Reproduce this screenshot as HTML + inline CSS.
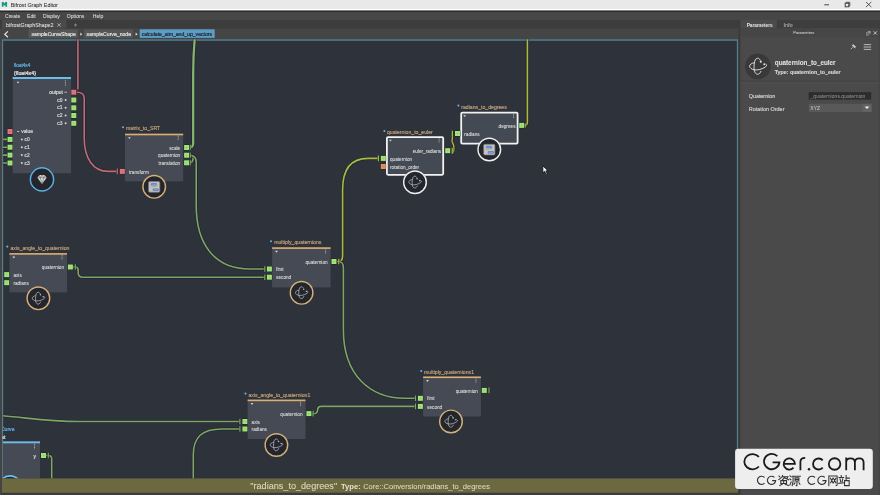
<!DOCTYPE html>
<html><head><meta charset="utf-8"><title>Bifrost Graph Editor</title>
<style>html,body{margin:0;padding:0;width:880px;height:495px;overflow:hidden;background:#484848;font-family:"Liberation Sans",sans-serif}</style>
</head><body>
<svg width="880" height="495" viewBox="0 0 880 495" font-family="Liberation Sans" style="position:absolute;left:0;top:0;will-change:transform"><rect x="0" y="0" width="880" height="495" fill="#484848" />
<rect x="0" y="0" width="880" height="9.5" fill="#e9e9e9" />
<rect x="0" y="8.9" width="880" height="1.3" fill="#ffffff" />
<rect x="0" y="10.2" width="880" height="0.8" fill="#8a8a8a" />
<rect x="0" y="11" width="880" height="1.1" fill="#2a2a2a" />
<path d="M1.8 2 H3.6 L4.35 3.7 L5.1 2 H7.1 V6.7 H5.3 V4.9 L4.35 5.7 L3.5 4.9 V6.7 H1.8 Z" fill="#1a9a80"/>
<text x="10.7" y="7.2" font-size="5.39" fill="#303030" stroke="#303030" stroke-width="0.054" text-anchor="start" font-weight="normal" >Bifrost Graph Editor</text>
<path d="M824.3 4.8 H829" stroke="#333" stroke-width="0.9"/>
<rect x="845.2" y="3.2" width="3.6" height="3.6" fill="none" stroke="#333" stroke-width="0.9"/><path d="M846.2 3 V2.3 H849.8 V5.9 H849" fill="none" stroke="#333" stroke-width="0.8"/>
<path d="M866 2 L871.3 7 M871.3 2 L866 7" stroke="#333" stroke-width="0.8"/>
<rect x="0" y="12.1" width="880" height="7.9" fill="#474747" />
<text x="5" y="18" font-size="5.1" fill="#d4d4d4" stroke="#d4d4d4" stroke-width="0.102" text-anchor="start" font-weight="normal" >Create</text>
<text x="27" y="18" font-size="5.1" fill="#d4d4d4" stroke="#d4d4d4" stroke-width="0.102" text-anchor="start" font-weight="normal" >Edit</text>
<text x="43" y="18" font-size="5.1" fill="#d4d4d4" stroke="#d4d4d4" stroke-width="0.102" text-anchor="start" font-weight="normal" >Display</text>
<text x="66.8" y="18" font-size="5.1" fill="#d4d4d4" stroke="#d4d4d4" stroke-width="0.102" text-anchor="start" font-weight="normal" >Options</text>
<text x="92.8" y="18" font-size="5.1" fill="#d4d4d4" stroke="#d4d4d4" stroke-width="0.102" text-anchor="start" font-weight="normal" >Help</text>
<rect x="0" y="20" width="738" height="8.7" fill="#3c3c3c" />
<rect x="2" y="20" width="64.5" height="8.7" fill="#4a4a4a" />
<text x="6.1" y="26.8" font-size="5.3" fill="#d8d8d8" stroke="#d8d8d8" stroke-width="0.106" text-anchor="start" font-weight="normal" >bifrostGraphShape2</text>
<path d="M57.4 23.4 L60.8 26.6 M60.8 23.4 L57.4 26.6" stroke="#c8c8c8" stroke-width="0.7"/>
<path d="M74 25 H77 M75.5 23.5 V26.5" stroke="#aaaaaa" stroke-width="0.6"/>
<rect x="0" y="28.7" width="738" height="10.3" fill="#454545" />
<path d="M7.9 31.4 L4.8 34.3 L7.9 37.2" stroke="#e4e4e4" stroke-width="1.2" fill="none"/>
<rect x="28.6" y="29.3" width="49.2" height="8.6" fill="#555555" />
<text x="31.4" y="36" font-size="5.05" fill="#dddddd" stroke="#dddddd" stroke-width="0.227" text-anchor="start" font-weight="normal" >sampleCurveShape</text>
<path d="M80.3 32.6 L82.3 34.2 L80.3 35.8 Z" fill="#dddddd"/>
<rect x="84" y="29.3" width="49" height="8.6" fill="#555555" />
<text x="86.6" y="36" font-size="5.14" fill="#dddddd" stroke="#dddddd" stroke-width="0.231" text-anchor="start" font-weight="normal" >sampleCurve_node</text>
<path d="M135.6 32.6 L137.6 34.2 L135.6 35.8 Z" fill="#dddddd"/>
<rect x="139.7" y="29.3" width="75" height="8.6" fill="#5e9cc4" />
<text x="141.8" y="36" font-size="5.1" fill="#1c2a36" stroke="#1c2a36" stroke-width="0.229" text-anchor="start" font-weight="normal" >calculate_aim_and_up_vectors</text>
<rect x="0" y="39" width="738" height="439.5" fill="#2e323a" />
<path d="M2.4 478.5 V40 H737.6 V478.5" fill="none" stroke="#52808e" stroke-width="1.5"/>
<defs><clipPath id="gc"><rect x="2.6" y="39.3" width="734.5" height="439.2"/></clipPath></defs><g clip-path="url(#gc)">
<path d="M77.9 39 V89.5" fill="none" stroke="#1b1f27" stroke-width="3.0" stroke-opacity="0.7"/>
<path d="M77.9 39 V89.5" fill="none" stroke="#c06a7c" stroke-width="1.6"/>
<path d="M77 92.2 C81 92.2 84.2 93 84.2 98 V138 C84.2 158 93 171.4 108 171.4 H117.4" fill="none" stroke="#1b1f27" stroke-width="3.0" stroke-opacity="0.7"/>
<path d="M77 92.2 C81 92.2 84.2 93 84.2 98 V138 C84.2 158 93 171.4 108 171.4 H117.4" fill="none" stroke="#c06a7c" stroke-width="1.6"/>
<path d="M194.7 39 C193.7 50 193.2 60 193.2 75 V143 C193.2 146 192 147.5 189.5 147.5" fill="none" stroke="#1b1f27" stroke-width="3.6999999999999997" stroke-opacity="0.7"/>
<path d="M194.7 39 C193.7 50 193.2 60 193.2 75 V143 C193.2 146 192 147.5 189.5 147.5" fill="none" stroke="#88b470" stroke-width="2.3"/>
<path d="M189.5 162.8 C192 162.8 193.2 161 193.2 157" fill="none" stroke="#1b1f27" stroke-width="3.0" stroke-opacity="0.7"/>
<path d="M189.5 162.8 C192 162.8 193.2 161 193.2 157" fill="none" stroke="#7fa468" stroke-width="1.6"/>
<path d="M189.5 155.2 C193 155.2 196.2 157 196.2 162 V205 C196.2 245 215 269 250 269 H265" fill="none" stroke="#1b1f27" stroke-width="3.0" stroke-opacity="0.7"/>
<path d="M189.5 155.2 C193 155.2 196.2 157 196.2 162 V205 C196.2 245 215 269 250 269 H265" fill="none" stroke="#7fa468" stroke-width="1.6"/>
<path d="M73 267 H75.5 C77.4 267 78.2 268 78.2 270.5 V273 C78.2 276 80 277.2 83 277.2 H265" fill="none" stroke="#1b1f27" stroke-width="3.0" stroke-opacity="0.7"/>
<path d="M73 267 H75.5 C77.4 267 78.2 268 78.2 270.5 V273 C78.2 276 80 277.2 83 277.2 H265" fill="none" stroke="#7fa468" stroke-width="1.6"/>
<path d="M337 261.5 C341 261.5 342.6 260.5 342.6 256 V190 C342.6 170 350 158.4 368 158.4 H378.5" fill="none" stroke="#1b1f27" stroke-width="3.0" stroke-opacity="0.7"/>
<path d="M337 261.5 C341 261.5 342.6 260.5 342.6 256 V190 C342.6 170 350 158.4 368 158.4 H378.5" fill="none" stroke="#abbb40" stroke-width="1.6"/>
<path d="M338 261.5 C342 261.5 343.4 263 343.4 268 V330 C343.4 375 370 398.3 405 398.3 H415.6" fill="none" stroke="#1b1f27" stroke-width="3.0" stroke-opacity="0.7"/>
<path d="M338 261.5 C342 261.5 343.4 263 343.4 268 V330 C343.4 375 370 398.3 405 398.3 H415.6" fill="none" stroke="#7fa468" stroke-width="1.6"/>
<path d="M452.4 131.5 V137.5 C452.4 139.5 451.7 140.3 452.2 142 C452.8 143.6 453.8 144.3 453.8 146.8 V150 C453.8 151.6 453.2 152.6 452.2 153.6" fill="none" stroke="#1b1f27" stroke-width="2.8" stroke-opacity="0.7"/>
<path d="M452.4 131.5 V137.5 C452.4 139.5 451.7 140.3 452.2 142 C452.8 143.6 453.8 144.3 453.8 146.8 V150 C453.8 151.6 453.2 152.6 452.2 153.6" fill="none" stroke="#abbb40" stroke-width="1.4"/>
<path d="M524 125.4 C526.5 125.4 527.4 124.5 527.4 122 V39" fill="none" stroke="#1b1f27" stroke-width="3.0" stroke-opacity="0.7"/>
<path d="M524 125.4 C526.5 125.4 527.4 124.5 527.4 122 V39" fill="none" stroke="#abbb40" stroke-width="1.6"/>
<path d="M311.5 413.7 H313.5 C316 413.7 317.2 413 317.4 411 L317.8 409 C318.2 407 319 406.4 321 406.4 H415.6" fill="none" stroke="#1b1f27" stroke-width="3.0" stroke-opacity="0.7"/>
<path d="M311.5 413.7 H313.5 C316 413.7 317.2 413 317.4 411 L317.8 409 C318.2 407 319 406.4 321 406.4 H415.6" fill="none" stroke="#7fa468" stroke-width="1.6"/>
<path d="M2.5 415.8 C30 418 45 421.5 80 421.5 H240" fill="none" stroke="#1b1f27" stroke-width="3.0" stroke-opacity="0.7"/>
<path d="M2.5 415.8 C30 418 45 421.5 80 421.5 H240" fill="none" stroke="#7fa468" stroke-width="1.6"/>
<path d="M193.3 479 V455 C193.3 437 202 429 222 429 H240" fill="none" stroke="#1b1f27" stroke-width="3.0" stroke-opacity="0.7"/>
<path d="M193.3 479 V455 C193.3 437 202 429 222 429 H240" fill="none" stroke="#7fa468" stroke-width="1.6"/>
<path d="M45.8 455.5 H48.5 C50.6 455.5 51.7 456.5 51.7 459 V479" fill="none" stroke="#1b1f27" stroke-width="3.0" stroke-opacity="0.7"/>
<path d="M45.8 455.5 H48.5 C50.6 455.5 51.7 456.5 51.7 459 V479" fill="none" stroke="#7fa468" stroke-width="1.6"/>
<path d="M2.5 139.4 H7.3" fill="none" stroke="#1b1f27" stroke-width="3.0" stroke-opacity="0.7"/>
<path d="M2.5 139.4 H7.3" fill="none" stroke="#7fa468" stroke-width="1.6"/>
<path d="M2.5 147.2 H7.3" fill="none" stroke="#1b1f27" stroke-width="3.0" stroke-opacity="0.7"/>
<path d="M2.5 147.2 H7.3" fill="none" stroke="#7fa468" stroke-width="1.6"/>
<path d="M2.5 155.1 H7.3" fill="none" stroke="#1b1f27" stroke-width="3.0" stroke-opacity="0.7"/>
<path d="M2.5 155.1 H7.3" fill="none" stroke="#7fa468" stroke-width="1.6"/>
<path d="M2.5 163 H7.3" fill="none" stroke="#1b1f27" stroke-width="3.0" stroke-opacity="0.7"/>
<path d="M2.5 163 H7.3" fill="none" stroke="#7fa468" stroke-width="1.6"/>
<path d="M117.3 168.6 V174.20000000000002" stroke="#1b1f27" stroke-width="2.4" stroke-opacity="0.6"/>
<path d="M117.3 168.6 V174.20000000000002" stroke="#c06a7c" stroke-width="1.2"/>
<path d="M190.2 144.7 V150.3" stroke="#1b1f27" stroke-width="2.4" stroke-opacity="0.6"/>
<path d="M190.2 144.7 V150.3" stroke="#7fa468" stroke-width="1.2"/>
<path d="M190.2 152.39999999999998 V158.0" stroke="#1b1f27" stroke-width="2.4" stroke-opacity="0.6"/>
<path d="M190.2 152.39999999999998 V158.0" stroke="#7fa468" stroke-width="1.2"/>
<path d="M190.2 160.0 V165.60000000000002" stroke="#1b1f27" stroke-width="2.4" stroke-opacity="0.6"/>
<path d="M190.2 160.0 V165.60000000000002" stroke="#7fa468" stroke-width="1.2"/>
<path d="M264.8 266.2 V271.8" stroke="#1b1f27" stroke-width="2.4" stroke-opacity="0.6"/>
<path d="M264.8 266.2 V271.8" stroke="#7fa468" stroke-width="1.2"/>
<path d="M264.8 274.4 V280.0" stroke="#1b1f27" stroke-width="2.4" stroke-opacity="0.6"/>
<path d="M264.8 274.4 V280.0" stroke="#7fa468" stroke-width="1.2"/>
<path d="M75.3 264.2 V269.8" stroke="#1b1f27" stroke-width="2.4" stroke-opacity="0.6"/>
<path d="M75.3 264.2 V269.8" stroke="#7fa468" stroke-width="1.2"/>
<path d="M338.8 258.7 V264.3" stroke="#1b1f27" stroke-width="2.4" stroke-opacity="0.6"/>
<path d="M338.8 258.7 V264.3" stroke="#abbb40" stroke-width="1.2"/>
<path d="M378.4 155.6 V161.20000000000002" stroke="#1b1f27" stroke-width="2.4" stroke-opacity="0.6"/>
<path d="M378.4 155.6 V161.20000000000002" stroke="#abbb40" stroke-width="1.2"/>
<path d="M415.5 395.5 V401.1" stroke="#1b1f27" stroke-width="2.4" stroke-opacity="0.6"/>
<path d="M415.5 395.5 V401.1" stroke="#7fa468" stroke-width="1.2"/>
<path d="M415.5 403.59999999999997 V409.2" stroke="#1b1f27" stroke-width="2.4" stroke-opacity="0.6"/>
<path d="M415.5 403.59999999999997 V409.2" stroke="#7fa468" stroke-width="1.2"/>
<path d="M313.1 410.8 V416.40000000000003" stroke="#1b1f27" stroke-width="2.4" stroke-opacity="0.6"/>
<path d="M313.1 410.8 V416.40000000000003" stroke="#7fa468" stroke-width="1.2"/>
<path d="M239.9 418.7 V424.3" stroke="#1b1f27" stroke-width="2.4" stroke-opacity="0.6"/>
<path d="M239.9 418.7 V424.3" stroke="#7fa468" stroke-width="1.2"/>
<path d="M239.9 426.2 V431.8" stroke="#1b1f27" stroke-width="2.4" stroke-opacity="0.6"/>
<path d="M239.9 426.2 V431.8" stroke="#7fa468" stroke-width="1.2"/>
<path d="M48.3 452.7 V458.3" stroke="#1b1f27" stroke-width="2.4" stroke-opacity="0.6"/>
<path d="M48.3 452.7 V458.3" stroke="#7fa468" stroke-width="1.2"/>
<path d="M489 387.59999999999997 V393.2" stroke="#1b1f27" stroke-width="2.4" stroke-opacity="0.6"/>
<path d="M489 387.59999999999997 V393.2" stroke="#7fa468" stroke-width="1.2"/>
<path d="M452.2 147.8 V153.8" stroke="#1b1f27" stroke-width="2.4" stroke-opacity="0.6"/>
<path d="M452.2 147.8 V153.8" stroke="#abbb40" stroke-width="1.2"/>
<path d="M452.4 130.85 V136.35" stroke="#1b1f27" stroke-width="2.4" stroke-opacity="0.6"/>
<path d="M452.4 130.85 V136.35" stroke="#abbb40" stroke-width="1.2"/>
<path d="M525.2 123.4 V127.4" stroke="#1b1f27" stroke-width="2.4" stroke-opacity="0.6"/>
<path d="M525.2 123.4 V127.4" stroke="#abbb40" stroke-width="1.2"/>
<text x="14" y="67.4" font-size="4.63" fill="#62aee0" stroke="#62aee0" stroke-width="0.208" text-anchor="start" font-weight="normal" >float4x4</text>
<text x="14" y="74.7" font-size="5.25" fill="#e0e0e0" stroke="#e0e0e0" stroke-width="0.236" text-anchor="start" font-weight="normal" >{float4x4}</text>
<rect x="12.7" y="77" width="58.3" height="96.3" fill="#454a54" />
<rect x="12.7" y="77" width="58.3" height="2" fill="#6cbcec" />
<path d="M16.6 81.7 L19.4 81.7 L18 83.6 Z" fill="#d8d8d8"/>
<path d="M65.4 80.2 V85.9" stroke="#a8a8a8" stroke-width="0.9" stroke-dasharray="1.1 0.5"/>
<text x="63" y="93.7" font-size="4.96" fill="#d4d4d4" stroke="#d4d4d4" stroke-width="0.223" text-anchor="end" font-weight="normal" >output</text>
<path d="M64.3 92.2 H67" stroke="#d0d0d0" stroke-width="0.8"/>
<rect x="71.0" y="89.4" width="5.6" height="5.6" fill="#1a2018"/>
<rect x="71.3" y="89.7" width="5" height="5" fill="#e87482"/>
<path d="M73.8 90.3 V94.10000000000001 M71.89999999999999 92.2 H75.7" stroke="#000" stroke-opacity="0.12" stroke-width="0.5"/>
<text x="62.5" y="101.5" font-size="4.9" fill="#d4d4d4" stroke="#d4d4d4" stroke-width="0.221" text-anchor="end" font-weight="normal" >c0</text>
<circle cx="65.6" cy="100" r="1.0" fill="#d8d8d8"/>
<rect x="71.0" y="97.2" width="5.6" height="5.6" fill="#1a2018"/>
<rect x="71.3" y="97.5" width="5" height="5" fill="#a2e67c"/>
<path d="M73.8 98.1 V101.9 M71.89999999999999 100 H75.7" stroke="#000" stroke-opacity="0.12" stroke-width="0.5"/>
<text x="62.5" y="109.3" font-size="4.9" fill="#d4d4d4" stroke="#d4d4d4" stroke-width="0.221" text-anchor="end" font-weight="normal" >c1</text>
<circle cx="65.6" cy="107.8" r="1.0" fill="#d8d8d8"/>
<rect x="71.0" y="105.0" width="5.6" height="5.6" fill="#1a2018"/>
<rect x="71.3" y="105.3" width="5" height="5" fill="#a2e67c"/>
<path d="M73.8 105.89999999999999 V109.7 M71.89999999999999 107.8 H75.7" stroke="#000" stroke-opacity="0.12" stroke-width="0.5"/>
<text x="62.5" y="117.0" font-size="4.9" fill="#d4d4d4" stroke="#d4d4d4" stroke-width="0.221" text-anchor="end" font-weight="normal" >c2</text>
<circle cx="65.6" cy="115.5" r="1.0" fill="#d8d8d8"/>
<rect x="71.0" y="112.7" width="5.6" height="5.6" fill="#1a2018"/>
<rect x="71.3" y="113.0" width="5" height="5" fill="#a2e67c"/>
<path d="M73.8 113.6 V117.4 M71.89999999999999 115.5 H75.7" stroke="#000" stroke-opacity="0.12" stroke-width="0.5"/>
<text x="62.5" y="124.8" font-size="4.9" fill="#d4d4d4" stroke="#d4d4d4" stroke-width="0.221" text-anchor="end" font-weight="normal" >c3</text>
<circle cx="65.6" cy="123.3" r="1.0" fill="#d8d8d8"/>
<rect x="71.0" y="120.5" width="5.6" height="5.6" fill="#1a2018"/>
<rect x="71.3" y="120.8" width="5" height="5" fill="#a2e67c"/>
<path d="M73.8 121.39999999999999 V125.2 M71.89999999999999 123.3 H75.7" stroke="#000" stroke-opacity="0.12" stroke-width="0.5"/>
<path d="M17 131.5 H19.4" stroke="#d0d0d0" stroke-width="0.8"/>
<text x="21.2" y="133.0" font-size="4.9" fill="#d4d4d4" stroke="#d4d4d4" stroke-width="0.221" text-anchor="start" font-weight="normal" >value</text>
<rect x="7.2" y="128.7" width="5.6" height="5.6" fill="#1a2018"/>
<rect x="7.5" y="129.0" width="5" height="5" fill="#e87482"/>
<path d="M10.0 129.6 V133.4 M8.1 131.5 H11.9" stroke="#000" stroke-opacity="0.12" stroke-width="0.5"/>
<circle cx="21.8" cy="139.4" r="1.0" fill="#d8d8d8"/>
<text x="24.6" y="140.9" font-size="4.9" fill="#d4d4d4" stroke="#d4d4d4" stroke-width="0.221" text-anchor="start" font-weight="normal" >c0</text>
<rect x="7.2" y="136.6" width="5.6" height="5.6" fill="#1a2018"/>
<rect x="7.5" y="136.9" width="5" height="5" fill="#a2e67c"/>
<path d="M10.0 137.5 V141.3 M8.1 139.4 H11.9" stroke="#000" stroke-opacity="0.12" stroke-width="0.5"/>
<circle cx="21.8" cy="147.2" r="1.0" fill="#d8d8d8"/>
<text x="24.6" y="148.7" font-size="4.9" fill="#d4d4d4" stroke="#d4d4d4" stroke-width="0.221" text-anchor="start" font-weight="normal" >c1</text>
<rect x="7.2" y="144.39999999999998" width="5.6" height="5.6" fill="#1a2018"/>
<rect x="7.5" y="144.7" width="5" height="5" fill="#a2e67c"/>
<path d="M10.0 145.29999999999998 V149.1 M8.1 147.2 H11.9" stroke="#000" stroke-opacity="0.12" stroke-width="0.5"/>
<circle cx="21.8" cy="155.1" r="1.0" fill="#d8d8d8"/>
<text x="24.6" y="156.6" font-size="4.9" fill="#d4d4d4" stroke="#d4d4d4" stroke-width="0.221" text-anchor="start" font-weight="normal" >c2</text>
<rect x="7.2" y="152.29999999999998" width="5.6" height="5.6" fill="#1a2018"/>
<rect x="7.5" y="152.6" width="5" height="5" fill="#a2e67c"/>
<path d="M10.0 153.2 V157.0 M8.1 155.1 H11.9" stroke="#000" stroke-opacity="0.12" stroke-width="0.5"/>
<circle cx="21.8" cy="163" r="1.0" fill="#d8d8d8"/>
<text x="24.6" y="164.5" font-size="4.9" fill="#d4d4d4" stroke="#d4d4d4" stroke-width="0.221" text-anchor="start" font-weight="normal" >c3</text>
<rect x="7.2" y="160.2" width="5.6" height="5.6" fill="#1a2018"/>
<rect x="7.5" y="160.5" width="5" height="5" fill="#a2e67c"/>
<path d="M10.0 161.1 V164.9 M8.1 163 H11.9" stroke="#000" stroke-opacity="0.12" stroke-width="0.5"/>
<circle cx="42" cy="179.4" r="12.1" fill="#1c1f25"/>
<circle cx="42" cy="179.4" r="11.6" fill="#23262d" stroke="#5ab4e8" stroke-width="1.45"/>
<path d="M37.4 177.8 L39.4 175.0 L44.6 175.0 L46.6 177.8 L42 184.0 Z" fill="#dcdcdc"/>
<path d="M37.4 177.8 H46.6 M40.2 177.8 L42 183.8 L43.8 177.8 M39.4 175.0 L40.2 177.8 L42 175.0 L43.8 177.8 L44.6 175.0" fill="none" stroke="#5a5a5a" stroke-width="0.55"/>
<circle cx="123" cy="127.3" r="1.05" fill="#6ab0e0"/>
<text x="126" y="129.7" font-size="5.15" fill="#c4a47a" stroke="#c4a47a" stroke-width="0.154" text-anchor="start" font-weight="normal" >matrix_to_SRT</text>
<rect x="125" y="133.7" width="58.19999999999999" height="47.70000000000002" fill="#454a54" />
<rect x="125" y="133.7" width="58.19999999999999" height="1.6" fill="#dcae72" />
<path d="M128.0 137.2 L130.8 137.2 L129.4 139.1 Z" fill="#d8d8d8"/>
<path d="M178.2 135.7 V140.5" stroke="#a8a8a8" stroke-width="0.9" stroke-dasharray="1.1 0.5"/>
<text x="180.2" y="149.6" font-size="4.7" fill="#d8d8d8" stroke="#d8d8d8" stroke-width="0.094" text-anchor="end" font-weight="normal" >scale</text>
<rect x="183.79999999999998" y="144.7" width="5.6" height="5.6" fill="#1a2018"/>
<rect x="184.1" y="145.0" width="5" height="5" fill="#a2e67c"/>
<path d="M186.6 145.6 V149.4 M184.7 147.5 H188.5" stroke="#000" stroke-opacity="0.12" stroke-width="0.5"/>
<text x="180.2" y="157.29999999999998" font-size="4.7" fill="#d8d8d8" stroke="#d8d8d8" stroke-width="0.094" text-anchor="end" font-weight="normal" >quaternion</text>
<rect x="183.79999999999998" y="152.39999999999998" width="5.6" height="5.6" fill="#1a2018"/>
<rect x="184.1" y="152.7" width="5" height="5" fill="#a2e67c"/>
<path d="M186.6 153.29999999999998 V157.1 M184.7 155.2 H188.5" stroke="#000" stroke-opacity="0.12" stroke-width="0.5"/>
<text x="180.2" y="164.9" font-size="4.7" fill="#d8d8d8" stroke="#d8d8d8" stroke-width="0.094" text-anchor="end" font-weight="normal" >translation</text>
<rect x="183.79999999999998" y="160.0" width="5.6" height="5.6" fill="#1a2018"/>
<rect x="184.1" y="160.3" width="5" height="5" fill="#a2e67c"/>
<path d="M186.6 160.9 V164.70000000000002 M184.7 162.8 H188.5" stroke="#000" stroke-opacity="0.12" stroke-width="0.5"/>
<text x="129" y="173.5" font-size="4.7" fill="#d8d8d8" stroke="#d8d8d8" stroke-width="0.094" text-anchor="start" font-weight="normal" >transform</text>
<rect x="119.5" y="168.6" width="5.6" height="5.6" fill="#1a2018"/>
<rect x="119.8" y="168.9" width="5" height="5" fill="#e87482"/>
<path d="M122.3 169.5 V173.3 M120.39999999999999 171.4 H124.2" stroke="#000" stroke-opacity="0.12" stroke-width="0.5"/>
<circle cx="154.2" cy="186.8" r="11.8" fill="#1c1f25"/>
<circle cx="154.2" cy="186.8" r="11.3" fill="#23262d" stroke="#d6b07c" stroke-width="1.45"/>
<rect x="148.6" y="181.60000000000002" width="11.2" height="10.6" rx="1.2" fill="#c4c4c0" stroke="#7a7a78" stroke-width="0.7"/>
<rect x="151.0" y="183.5" width="5.6" height="1.7" rx="0.5" fill="#88a6ee" stroke="#3456b4" stroke-width="0.5"/>
<rect x="152.89999999999998" y="188.8" width="5.6" height="1.7" rx="0.5" fill="#88a6ee" stroke="#3456b4" stroke-width="0.5"/>
<path d="M150.6 187.0 L157.79999999999998 186.20000000000002" stroke="#b08a5a" stroke-width="0.5"/>
<circle cx="384.4" cy="131" r="1.05" fill="#6ab0e0"/>
<text x="387" y="133.7" font-size="5.15" fill="#c4a47a" stroke="#c4a47a" stroke-width="0.154" text-anchor="start" font-weight="normal" >quaternion_to_euler</text>
<rect x="386.9" y="137.1" width="56.300000000000026" height="37.7" rx="1.2" fill="#444a53" stroke="#f2f2f2" stroke-width="1.8"/>
<path d="M389.0 139.7 L391.79999999999995 139.7 L390.4 141.6 Z" fill="#d8d8d8"/>
<path d="M439.1 138.2 V143.0" stroke="#a8a8a8" stroke-width="0.9" stroke-dasharray="1.1 0.5"/>
<text x="441.1" y="152.79999999999998" font-size="4.7" fill="#d8d8d8" stroke="#d8d8d8" stroke-width="0.094" text-anchor="end" font-weight="normal" >euler_radians</text>
<rect x="444.9" y="147.89999999999998" width="5.6" height="5.6" fill="#1a2018"/>
<rect x="445.2" y="148.2" width="5" height="5" fill="#a2e67c"/>
<path d="M447.7 148.79999999999998 V152.6 M445.8 150.7 H449.59999999999997" stroke="#000" stroke-opacity="0.12" stroke-width="0.5"/>
<text x="390" y="160.5" font-size="4.7" fill="#d8d8d8" stroke="#d8d8d8" stroke-width="0.094" text-anchor="start" font-weight="normal" >quaternion</text>
<rect x="380.5" y="155.6" width="5.6" height="5.6" fill="#1a2018"/>
<rect x="380.8" y="155.9" width="5" height="5" fill="#a2e67c"/>
<path d="M383.3 156.5 V160.3 M381.40000000000003 158.4 H385.2" stroke="#000" stroke-opacity="0.12" stroke-width="0.5"/>
<text x="390" y="168.6" font-size="4.7" fill="#d8d8d8" stroke="#d8d8d8" stroke-width="0.094" text-anchor="start" font-weight="normal" >rotation_order</text>
<rect x="380.5" y="163.7" width="5.6" height="5.6" fill="#1a2018"/>
<rect x="380.8" y="164.0" width="5" height="5" fill="#e8925e"/>
<path d="M383.3 164.6 V168.4 M381.40000000000003 166.5 H385.2" stroke="#000" stroke-opacity="0.12" stroke-width="0.5"/>
<circle cx="415" cy="182.2" r="11.8" fill="#1c1f25"/>
<circle cx="415" cy="182.2" r="11.3" fill="#23262d" stroke="#f0f0f0" stroke-width="1.45"/>
<g transform="translate(415,182.2) scale(0.74)" fill="none" stroke="#bdbdbd" stroke-width="1.014" stroke-linecap="round"><path d="M2.1 -6.6 C1.5 -7.7 0.6 -8.2 -0.2 -8.2 C-2.4 -8.2 -3.4 -5.5 -3.7 -2.3 C-4 1 -3.9 3.6 -3.4 4.8 C-2.8 6.6 -1.8 7.8 -0.4 7.8 C1.2 7.8 2.5 6.6 3.0 5.0"/><path d="M-4.24 -3.5 C-6.5 -3.2 -8.3 -1.6 -8.3 -0.3 C-8.3 1.6 -6 3 -3.8 3.4 C-1.5 3.7 1 3.6 4.2 2.3 C6.5 1.3 8.7 0.1 8.7 -1.1 C8.7 -1.5 8.5 -1.8 8.2 -2.0"/><circle cx="2.83" cy="-4.73" r="1.05" fill="#bdbdbd" stroke="none"/><circle cx="6.46" cy="-2.1" r="1.05" fill="#bdbdbd" stroke="none"/></g>
<circle cx="458.4" cy="105.6" r="1.05" fill="#6ab0e0"/>
<text x="461.3" y="109.4" font-size="5.15" fill="#c4a47a" stroke="#c4a47a" stroke-width="0.154" text-anchor="start" font-weight="normal" >radians_to_degrees</text>
<rect x="461.2" y="112.60000000000001" width="56.39999999999999" height="30.999999999999996" rx="1.2" fill="#444a53" stroke="#f2f2f2" stroke-width="1.8"/>
<path d="M463.3 115.2 L466.09999999999997 115.2 L464.7 117.10000000000001 Z" fill="#d8d8d8"/>
<path d="M513.5 113.7 V118.50000000000001" stroke="#a8a8a8" stroke-width="0.9" stroke-dasharray="1.1 0.5"/>
<text x="515.5" y="127.5" font-size="4.7" fill="#d8d8d8" stroke="#d8d8d8" stroke-width="0.094" text-anchor="end" font-weight="normal" >degrees</text>
<rect x="518.9000000000001" y="122.60000000000001" width="5.6" height="5.6" fill="#1a2018"/>
<rect x="519.2" y="122.9" width="5" height="5" fill="#a2e67c"/>
<path d="M521.7 123.5 V127.30000000000001 M519.8000000000001 125.4 H523.6" stroke="#000" stroke-opacity="0.12" stroke-width="0.5"/>
<text x="464.3" y="135.6" font-size="4.7" fill="#d8d8d8" stroke="#d8d8d8" stroke-width="0.094" text-anchor="start" font-weight="normal" >radians</text>
<rect x="454.7" y="130.7" width="5.6" height="5.6" fill="#1a2018"/>
<rect x="455" y="131.0" width="5" height="5" fill="#a2e67c"/>
<path d="M457.5 131.6 V135.4 M455.6 133.5 H459.4" stroke="#000" stroke-opacity="0.12" stroke-width="0.5"/>
<circle cx="489.3" cy="149.5" r="11.8" fill="#1c1f25"/>
<circle cx="489.3" cy="149.5" r="11.3" fill="#23262d" stroke="#f0f0f0" stroke-width="1.45"/>
<rect x="483.7" y="144.3" width="11.2" height="10.6" rx="1.2" fill="#c4c4c0" stroke="#7a7a78" stroke-width="0.7"/>
<rect x="486.1" y="146.2" width="5.6" height="1.7" rx="0.5" fill="#88a6ee" stroke="#3456b4" stroke-width="0.5"/>
<rect x="488.0" y="151.5" width="5.6" height="1.7" rx="0.5" fill="#88a6ee" stroke="#3456b4" stroke-width="0.5"/>
<path d="M485.7 149.7 L492.90000000000003 148.9" stroke="#b08a5a" stroke-width="0.5"/>
<circle cx="7.3" cy="246.6" r="1.05" fill="#6ab0e0"/>
<text x="10.5" y="249.7" font-size="5.15" fill="#c4a47a" stroke="#c4a47a" stroke-width="0.154" text-anchor="start" font-weight="normal" >axis_angle_to_quaternion</text>
<rect x="9.4" y="253.1" width="57.6" height="39.29999999999998" fill="#454a54" />
<rect x="9.4" y="253.1" width="57.6" height="1.6" fill="#dcae72" />
<path d="M12.4 256.6 L15.200000000000001 256.6 L13.8 258.5 Z" fill="#d8d8d8"/>
<path d="M62 255.1 V259.9" stroke="#a8a8a8" stroke-width="0.9" stroke-dasharray="1.1 0.5"/>
<text x="64" y="269.1" font-size="4.7" fill="#d8d8d8" stroke="#d8d8d8" stroke-width="0.094" text-anchor="end" font-weight="normal" >quaternion</text>
<rect x="67.60000000000001" y="264.2" width="5.6" height="5.6" fill="#1a2018"/>
<rect x="67.9" y="264.5" width="5" height="5" fill="#a2e67c"/>
<path d="M70.4 265.1 V268.9 M68.5 267 H72.30000000000001" stroke="#000" stroke-opacity="0.12" stroke-width="0.5"/>
<text x="13.4" y="276.70000000000005" font-size="4.7" fill="#d8d8d8" stroke="#d8d8d8" stroke-width="0.094" text-anchor="start" font-weight="normal" >axis</text>
<rect x="3.9000000000000004" y="271.8" width="5.6" height="5.6" fill="#1a2018"/>
<rect x="4.2" y="272.1" width="5" height="5" fill="#a2e67c"/>
<path d="M6.7 272.70000000000005 V276.5 M4.8 274.6 H8.6" stroke="#000" stroke-opacity="0.12" stroke-width="0.5"/>
<text x="13.4" y="284.8" font-size="4.7" fill="#d8d8d8" stroke="#d8d8d8" stroke-width="0.094" text-anchor="start" font-weight="normal" >radians</text>
<rect x="3.9000000000000004" y="279.9" width="5.6" height="5.6" fill="#1a2018"/>
<rect x="4.2" y="280.2" width="5" height="5" fill="#a2e67c"/>
<path d="M6.7 280.8 V284.59999999999997 M4.8 282.7 H8.6" stroke="#000" stroke-opacity="0.12" stroke-width="0.5"/>
<circle cx="38.4" cy="298.3" r="11.8" fill="#1c1f25"/>
<circle cx="38.4" cy="298.3" r="11.3" fill="#23262d" stroke="#d6b07c" stroke-width="1.45"/>
<g transform="translate(38.4,298.3) scale(0.74)" fill="none" stroke="#bdbdbd" stroke-width="1.014" stroke-linecap="round"><path d="M2.1 -6.6 C1.5 -7.7 0.6 -8.2 -0.2 -8.2 C-2.4 -8.2 -3.4 -5.5 -3.7 -2.3 C-4 1 -3.9 3.6 -3.4 4.8 C-2.8 6.6 -1.8 7.8 -0.4 7.8 C1.2 7.8 2.5 6.6 3.0 5.0"/><path d="M-4.24 -3.5 C-6.5 -3.2 -8.3 -1.6 -8.3 -0.3 C-8.3 1.6 -6 3 -3.8 3.4 C-1.5 3.7 1 3.6 4.2 2.3 C6.5 1.3 8.7 0.1 8.7 -1.1 C8.7 -1.5 8.5 -1.8 8.2 -2.0"/><circle cx="2.83" cy="-4.73" r="1.05" fill="#bdbdbd" stroke="none"/><circle cx="6.46" cy="-2.1" r="1.05" fill="#bdbdbd" stroke="none"/></g>
<circle cx="271" cy="241.3" r="1.05" fill="#6ab0e0"/>
<text x="274.2" y="244.29999999999998" font-size="5.15" fill="#c4a47a" stroke="#c4a47a" stroke-width="0.154" text-anchor="start" font-weight="normal" >multiply_quaternions</text>
<rect x="272.1" y="247.3" width="58.5" height="40.099999999999966" fill="#454a54" />
<rect x="272.1" y="247.3" width="58.5" height="1.6" fill="#dcae72" />
<path d="M275.1 250.8 L277.9 250.8 L276.5 252.70000000000002 Z" fill="#d8d8d8"/>
<path d="M325.6 249.3 V254.10000000000002" stroke="#a8a8a8" stroke-width="0.9" stroke-dasharray="1.1 0.5"/>
<text x="327.6" y="263.6" font-size="4.7" fill="#d8d8d8" stroke="#d8d8d8" stroke-width="0.094" text-anchor="end" font-weight="normal" >quaternion</text>
<rect x="331.2" y="258.7" width="5.6" height="5.6" fill="#1a2018"/>
<rect x="331.5" y="259.0" width="5" height="5" fill="#a2e67c"/>
<path d="M334.0 259.6 V263.4 M332.1 261.5 H335.9" stroke="#000" stroke-opacity="0.12" stroke-width="0.5"/>
<text x="276.1" y="271.1" font-size="4.7" fill="#d8d8d8" stroke="#d8d8d8" stroke-width="0.094" text-anchor="start" font-weight="normal" >first</text>
<rect x="266.6" y="266.2" width="5.6" height="5.6" fill="#1a2018"/>
<rect x="266.90000000000003" y="266.5" width="5" height="5" fill="#a2e67c"/>
<path d="M269.40000000000003 267.1 V270.9 M267.50000000000006 269 H271.3" stroke="#000" stroke-opacity="0.12" stroke-width="0.5"/>
<text x="276.1" y="279.3" font-size="4.7" fill="#d8d8d8" stroke="#d8d8d8" stroke-width="0.094" text-anchor="start" font-weight="normal" >second</text>
<rect x="266.6" y="274.4" width="5.6" height="5.6" fill="#1a2018"/>
<rect x="266.90000000000003" y="274.7" width="5" height="5" fill="#a2e67c"/>
<path d="M269.40000000000003 275.3 V279.09999999999997 M267.50000000000006 277.2 H271.3" stroke="#000" stroke-opacity="0.12" stroke-width="0.5"/>
<circle cx="301.6" cy="292.8" r="11.8" fill="#1c1f25"/>
<circle cx="301.6" cy="292.8" r="11.3" fill="#23262d" stroke="#d6b07c" stroke-width="1.45"/>
<g transform="translate(301.6,292.8) scale(0.74)" fill="none" stroke="#bdbdbd" stroke-width="1.014" stroke-linecap="round"><path d="M2.1 -6.6 C1.5 -7.7 0.6 -8.2 -0.2 -8.2 C-2.4 -8.2 -3.4 -5.5 -3.7 -2.3 C-4 1 -3.9 3.6 -3.4 4.8 C-2.8 6.6 -1.8 7.8 -0.4 7.8 C1.2 7.8 2.5 6.6 3.0 5.0"/><path d="M-4.24 -3.5 C-6.5 -3.2 -8.3 -1.6 -8.3 -0.3 C-8.3 1.6 -6 3 -3.8 3.4 C-1.5 3.7 1 3.6 4.2 2.3 C6.5 1.3 8.7 0.1 8.7 -1.1 C8.7 -1.5 8.5 -1.8 8.2 -2.0"/><circle cx="2.83" cy="-4.73" r="1.05" fill="#bdbdbd" stroke="none"/><circle cx="6.46" cy="-2.1" r="1.05" fill="#bdbdbd" stroke="none"/></g>
<circle cx="245.5" cy="393.6" r="1.05" fill="#6ab0e0"/>
<text x="248.5" y="396.7" font-size="5.15" fill="#c4a47a" stroke="#c4a47a" stroke-width="0.154" text-anchor="start" font-weight="normal" >axis_angle_to_quaternion1</text>
<rect x="247.6" y="399.6" width="57.900000000000006" height="39.39999999999998" fill="#454a54" />
<rect x="247.6" y="399.6" width="57.900000000000006" height="1.6" fill="#dcae72" />
<path d="M250.6 403.1 L253.4 403.1 L252.0 405.0 Z" fill="#d8d8d8"/>
<path d="M300.5 401.6 V406.4" stroke="#a8a8a8" stroke-width="0.9" stroke-dasharray="1.1 0.5"/>
<text x="302.5" y="415.70000000000005" font-size="4.7" fill="#d8d8d8" stroke="#d8d8d8" stroke-width="0.094" text-anchor="end" font-weight="normal" >quaternion</text>
<rect x="306.09999999999997" y="410.8" width="5.6" height="5.6" fill="#1a2018"/>
<rect x="306.4" y="411.1" width="5" height="5" fill="#a2e67c"/>
<path d="M308.9 411.70000000000005 V415.5 M307.0 413.6 H310.79999999999995" stroke="#000" stroke-opacity="0.12" stroke-width="0.5"/>
<text x="251.6" y="423.6" font-size="4.7" fill="#d8d8d8" stroke="#d8d8d8" stroke-width="0.094" text-anchor="start" font-weight="normal" >axis</text>
<rect x="242.1" y="418.7" width="5.6" height="5.6" fill="#1a2018"/>
<rect x="242.4" y="419.0" width="5" height="5" fill="#a2e67c"/>
<path d="M244.9 419.6 V423.4 M243.0 421.5 H246.8" stroke="#000" stroke-opacity="0.12" stroke-width="0.5"/>
<text x="251.6" y="431.1" font-size="4.7" fill="#d8d8d8" stroke="#d8d8d8" stroke-width="0.094" text-anchor="start" font-weight="normal" >radians</text>
<rect x="242.1" y="426.2" width="5.6" height="5.6" fill="#1a2018"/>
<rect x="242.4" y="426.5" width="5" height="5" fill="#a2e67c"/>
<path d="M244.9 427.1 V430.9 M243.0 429 H246.8" stroke="#000" stroke-opacity="0.12" stroke-width="0.5"/>
<circle cx="276.4" cy="445" r="11.8" fill="#1c1f25"/>
<circle cx="276.4" cy="445" r="11.3" fill="#23262d" stroke="#d6b07c" stroke-width="1.45"/>
<g transform="translate(276.4,445) scale(0.74)" fill="none" stroke="#bdbdbd" stroke-width="1.014" stroke-linecap="round"><path d="M2.1 -6.6 C1.5 -7.7 0.6 -8.2 -0.2 -8.2 C-2.4 -8.2 -3.4 -5.5 -3.7 -2.3 C-4 1 -3.9 3.6 -3.4 4.8 C-2.8 6.6 -1.8 7.8 -0.4 7.8 C1.2 7.8 2.5 6.6 3.0 5.0"/><path d="M-4.24 -3.5 C-6.5 -3.2 -8.3 -1.6 -8.3 -0.3 C-8.3 1.6 -6 3 -3.8 3.4 C-1.5 3.7 1 3.6 4.2 2.3 C6.5 1.3 8.7 0.1 8.7 -1.1 C8.7 -1.5 8.5 -1.8 8.2 -2.0"/><circle cx="2.83" cy="-4.73" r="1.05" fill="#bdbdbd" stroke="none"/><circle cx="6.46" cy="-2.1" r="1.05" fill="#bdbdbd" stroke="none"/></g>
<circle cx="421.2" cy="371" r="1.05" fill="#6ab0e0"/>
<text x="424" y="373.8" font-size="5.15" fill="#c4a47a" stroke="#c4a47a" stroke-width="0.154" text-anchor="start" font-weight="normal" >multiply_quaternions1</text>
<rect x="423.1" y="376.5" width="57.799999999999955" height="40.0" fill="#454a54" />
<rect x="423.1" y="376.5" width="57.799999999999955" height="1.6" fill="#dcae72" />
<path d="M426.1 380.0 L428.9 380.0 L427.5 381.9 Z" fill="#d8d8d8"/>
<path d="M475.9 378.5 V383.29999999999995" stroke="#a8a8a8" stroke-width="0.9" stroke-dasharray="1.1 0.5"/>
<text x="477.9" y="392.5" font-size="4.7" fill="#d8d8d8" stroke="#d8d8d8" stroke-width="0.094" text-anchor="end" font-weight="normal" >quaternion</text>
<rect x="481.49999999999994" y="387.59999999999997" width="5.6" height="5.6" fill="#1a2018"/>
<rect x="481.79999999999995" y="387.9" width="5" height="5" fill="#a2e67c"/>
<path d="M484.29999999999995 388.5 V392.29999999999995 M482.4 390.4 H486.19999999999993" stroke="#000" stroke-opacity="0.12" stroke-width="0.5"/>
<text x="427.1" y="400.40000000000003" font-size="4.7" fill="#d8d8d8" stroke="#d8d8d8" stroke-width="0.094" text-anchor="start" font-weight="normal" >first</text>
<rect x="417.6" y="395.5" width="5.6" height="5.6" fill="#1a2018"/>
<rect x="417.90000000000003" y="395.8" width="5" height="5" fill="#a2e67c"/>
<path d="M420.40000000000003 396.40000000000003 V400.2 M418.50000000000006 398.3 H422.3" stroke="#000" stroke-opacity="0.12" stroke-width="0.5"/>
<text x="427.1" y="408.5" font-size="4.7" fill="#d8d8d8" stroke="#d8d8d8" stroke-width="0.094" text-anchor="start" font-weight="normal" >second</text>
<rect x="417.6" y="403.59999999999997" width="5.6" height="5.6" fill="#1a2018"/>
<rect x="417.90000000000003" y="403.9" width="5" height="5" fill="#a2e67c"/>
<path d="M420.40000000000003 404.5 V408.29999999999995 M418.50000000000006 406.4 H422.3" stroke="#000" stroke-opacity="0.12" stroke-width="0.5"/>
<circle cx="451" cy="421.4" r="11.8" fill="#1c1f25"/>
<circle cx="451" cy="421.4" r="11.3" fill="#23262d" stroke="#d6b07c" stroke-width="1.45"/>
<g transform="translate(451,421.4) scale(0.74)" fill="none" stroke="#bdbdbd" stroke-width="1.014" stroke-linecap="round"><path d="M2.1 -6.6 C1.5 -7.7 0.6 -8.2 -0.2 -8.2 C-2.4 -8.2 -3.4 -5.5 -3.7 -2.3 C-4 1 -3.9 3.6 -3.4 4.8 C-2.8 6.6 -1.8 7.8 -0.4 7.8 C1.2 7.8 2.5 6.6 3.0 5.0"/><path d="M-4.24 -3.5 C-6.5 -3.2 -8.3 -1.6 -8.3 -0.3 C-8.3 1.6 -6 3 -3.8 3.4 C-1.5 3.7 1 3.6 4.2 2.3 C6.5 1.3 8.7 0.1 8.7 -1.1 C8.7 -1.5 8.5 -1.8 8.2 -2.0"/><circle cx="2.83" cy="-4.73" r="1.05" fill="#bdbdbd" stroke="none"/><circle cx="6.46" cy="-2.1" r="1.05" fill="#bdbdbd" stroke="none"/></g>
<text x="14.5" y="431.2" font-size="5.1" fill="#62aee0" stroke="#62aee0" stroke-width="0.229" text-anchor="end" font-weight="normal" >sampleCurve</text>
<text x="5.5" y="438.5" font-size="5.1" fill="#e0e0e0" stroke="#e0e0e0" stroke-width="0.229" text-anchor="end" font-weight="normal" >{sampleCurvet</text>
<rect x="2.5" y="441.4" width="37.5" height="40" fill="#454a54" />
<rect x="2.5" y="441.4" width="37.5" height="1.9" fill="#6cbcec" />
<path d="M34.5 443.8 V449.2" stroke="#a8a8a8" stroke-width="0.9" stroke-dasharray="1.1 0.5"/>
<text x="36" y="457.8" font-size="4.9" fill="#d4d4d4" stroke="#d4d4d4" stroke-width="0.221" text-anchor="end" font-weight="normal" >y</text>
<rect x="40.7" y="452.7" width="5.6" height="5.6" fill="#1a2018"/>
<rect x="41" y="453.0" width="5" height="5" fill="#a2e67c"/>
<path d="M43.5 453.6 V457.4 M41.6 455.5 H45.4" stroke="#000" stroke-opacity="0.12" stroke-width="0.5"/>
<circle cx="10" cy="487.3" r="11.4" fill="#23262d" stroke="#6cc0f0" stroke-width="1.7"/>
<path d="M0 0 L0.1 6.9 L1.8 5.4 L3.2 8.5 L4.4 8.0 L3.1 5.0 L5.1 4.7 Z" transform="translate(542.8,165.9)" fill="#f4f4f4" stroke="#0c0c0c" stroke-width="0.75" stroke-linejoin="round"/>
</g>
<rect x="2" y="478.5" width="736" height="14.3" fill="#6c6940" />
<rect x="0" y="492.8" width="738" height="2.2" fill="#3c3c3c" />
<rect x="0" y="39" width="2" height="456" fill="#444444" />
<text x="250.3" y="489.3" font-size="9.1" fill="#dcd9c0" stroke="#dcd9c0" stroke-width="0.091" text-anchor="start" font-weight="normal" >"radians_to_degrees"</text>
<text x="341" y="489.3" font-size="7.6" fill="#e4e2cc" stroke="#e4e2cc" stroke-width="0.0" text-anchor="start" font-weight="bold" >Type:</text>
<text x="363.2" y="489.3" font-size="7.5" fill="#dcd9c0" stroke="#dcd9c0" stroke-width="0.075" text-anchor="start" font-weight="normal" >Core::Conversion/radians_to_degrees</text>
<rect x="738.3" y="20" width="141.7" height="476" fill="#4a4a4a" />
<rect x="738.3" y="20" width="2.2" height="476" fill="#3c3a3a" />
<rect x="878.6" y="20" width="1.4" height="476" fill="#454545" />
<rect x="740.5" y="20" width="139.5" height="8.4" fill="#3e3e3e" />
<rect x="740.5" y="20" width="36.3" height="8.4" fill="#4b4b4b" />
<rect x="740.5" y="28.4" width="138.1" height="8.8" fill="#464646" />
<text x="746.7" y="27" font-size="4.78" fill="#e4e4e4" stroke="#e4e4e4" stroke-width="0.0" text-anchor="start" font-weight="bold" >Parameters</text>
<text x="783.4" y="27" font-size="5.5" fill="#9a9a9a" stroke="#9a9a9a" stroke-width="0.247" text-anchor="start" font-weight="normal" >Info</text>
<text x="793.2" y="34.4" font-size="4.1" fill="#c0c0c0" stroke="#c0c0c0" stroke-width="0.082" text-anchor="start" font-weight="normal" >Parameters</text>
<path d="M816 33 H863" stroke="#525252" stroke-width="0.8" stroke-dasharray="0.8 0.8"/>
<path d="M866.6 35 L869.6 32 M867.8 31.4 H870.2 V33.8" stroke="#bbbbbb" stroke-width="0.7" fill="none"/><rect x="866.4" y="32.6" width="2.6" height="2.6" fill="none" stroke="#9a9a9a" stroke-width="0.5"/>
<path d="M873.6 31.3 L876.9 34.6 M876.9 31.3 L873.6 34.6" stroke="#e0e0e0" stroke-width="0.8"/>
<path d="M850.8 49.2 L852.8 47.2 M852 45.2 L855 48.2 M853.2 44.6 L855.6 47 L854.8 47.6 L852.6 45.4 Z" stroke="#cfcfcf" stroke-width="0.8" fill="#cfcfcf"/>
<path d="M863.7 44.6 H871.1" stroke="#d8d8d8" stroke-width="0.8"/>
<path d="M863.7 47 H871.1" stroke="#d8d8d8" stroke-width="0.8"/>
<path d="M863.7 49.4 H871.1" stroke="#d8d8d8" stroke-width="0.8"/>
<circle cx="757.9" cy="66.4" r="12.8" fill="#393939"/>
<g transform="translate(757.9,66.4) scale(1.0)" fill="none" stroke="#e4e4e4" stroke-width="0.950" stroke-linecap="round"><path d="M2.1 -6.6 C1.5 -7.7 0.6 -8.2 -0.2 -8.2 C-2.4 -8.2 -3.4 -5.5 -3.7 -2.3 C-4 1 -3.9 3.6 -3.4 4.8 C-2.8 6.6 -1.8 7.8 -0.4 7.8 C1.2 7.8 2.5 6.6 3.0 5.0"/><path d="M-4.24 -3.5 C-6.5 -3.2 -8.3 -1.6 -8.3 -0.3 C-8.3 1.6 -6 3 -3.8 3.4 C-1.5 3.7 1 3.6 4.2 2.3 C6.5 1.3 8.7 0.1 8.7 -1.1 C8.7 -1.5 8.5 -1.8 8.2 -2.0"/><circle cx="2.83" cy="-4.73" r="1.05" fill="#e4e4e4" stroke="none"/><circle cx="6.46" cy="-2.1" r="1.05" fill="#e4e4e4" stroke="none"/></g>
<text x="774.8" y="65" font-size="6.32" fill="#e0e0e0" stroke="#e0e0e0" stroke-width="0.063" text-anchor="start" font-weight="bold" >quaternion_to_euler</text>
<text x="774.8" y="73.6" font-size="5.27" fill="#d4d4d4" stroke="#d4d4d4" stroke-width="0.158" text-anchor="start" font-weight="bold" >Type: quaternion_to_euler</text>
<rect x="740.5" y="80.6" width="138.1" height="1.6" fill="#444444" />
<rect x="740.5" y="82.2" width="138.1" height="1.4" fill="#4f4f4f" />
<text x="748.7" y="97.6" font-size="5.4" fill="#c4c4c4" stroke="#c4c4c4" stroke-width="0.243" text-anchor="start" font-weight="normal" >Quaternion</text>
<text x="748.7" y="110.6" font-size="5.46" fill="#c4c4c4" stroke="#c4c4c4" stroke-width="0.246" text-anchor="start" font-weight="normal" >Rotation Order</text>
<rect x="808.7" y="92.2" width="62.5" height="7.4" fill="#2c2c2c" />
<text x="810.5" y="97.8" font-size="5.1" fill="#8c8c8c" stroke="#8c8c8c" stroke-width="0.051" text-anchor="start" font-weight="normal" >_quaternions.quaternion</text>
<rect x="808.7" y="103.8" width="62.9" height="8.2" fill="#595959" />
<rect x="862.4" y="103.8" width="9.2" height="8.2" fill="#626262" />
<path d="M865.2 106.8 L868.8 106.8 L867 108.8 Z" fill="#f0f0f0" stroke="#f0f0f0" stroke-width="0.5"/>
<text x="810.3" y="110" font-size="5.0" fill="#c8c8c8" stroke="#c8c8c8" stroke-width="0.05" text-anchor="start" font-weight="normal" >XYZ</text>
<rect x="735.1" y="448.7" width="137.7" height="40.3" rx="3.2" fill="#eeeeee"/>
<g fill="none" stroke="#1a1a1a" stroke-width="1.8" stroke-linecap="butt"><path d="M758.9 456.9 A8.2 7.65 0 1 0 758.9 466.5"/><path d="M777.3 456.2 A7.7 7.7 0 1 0 779.4 462.4 H772.6"/><path d="M783.7 463.8 H794.9 A5.6 5.6 0 1 0 793.5 467.7"/><path d="M800.4 470.3 V462 C800.4 459.2 802.2 457.9 805.2 457.9"/><path d="M822.7 460.4 A5.5 5.5 0 1 0 822.7 467.6"/><circle cx="834.6" cy="464" r="5.75"/><path d="M846.2 470.3 V457.6 M846.2 462.2 C846.2 459.4 847.9 458.3 850.5 458.3 C853.4 458.3 854.9 460 854.9 462.6 V470.3 M854.9 462.2 C854.9 459.4 856.7 458.3 859.3 458.3 C862.2 458.3 863.6 460 863.6 462.6 V470.3"/></g><circle cx="809" cy="469.2" r="1.25" fill="#1e1e1e"/>
<g fill="none" stroke="#333333" stroke-width="1.15"><path d="M764.5 477.5 A4.1 4.1 0 1 0 764.5 483.2"/><path d="M774.4 477.4 A4.1 4.1 0 1 0 775.6 480.6 H772.1"/></g>
<g fill="none" stroke="#333333" stroke-width="1.15"><path d="M814.9 477.5 A4.1 4.1 0 1 0 814.9 483.2"/><path d="M824.8 477.4 A4.1 4.1 0 1 0 826.0 480.6 H822.5"/></g>
<path d="M778.95 476.03 L780.10 477.07 M778.72 479.57 L780.33 478.53 M782.63 475.51 L781.71 477.49 M782.17 476.66 L787.92 476.66 L787.23 477.90 M784.93 477.07 L782.40 479.78 M784.93 477.90 L788.61 479.78 M780.79 480.61 L786.54 480.61 L786.54 483.52 L780.79 483.52 L780.79 480.61 M783.66 481.02 L783.66 483.31 M782.40 483.94 L779.64 485.60 M784.93 483.94 L788.38 485.60 " fill="none" stroke="#333" stroke-width="1.05" stroke-linecap="square"/>
<path d="M790.03 475.82 L791.11 476.76 M789.82 478.94 L790.90 479.78 M789.82 485.18 L791.22 482.06 M792.62 476.24 L800.40 476.24 M793.06 476.24 L793.06 481.44 L792.19 485.60 M795.00 477.70 L798.89 477.70 L798.89 481.02 L795.00 481.02 L795.00 477.70 M795.00 479.36 L798.89 479.36 M796.94 481.02 L796.94 485.60 L796.30 485.60 M795.00 482.69 L793.92 484.35 M798.89 482.69 L799.97 484.35 " fill="none" stroke="#333" stroke-width="1.05" stroke-linecap="square"/>
<path d="M828.84 476.03 L828.84 485.60 M828.84 476.03 L837.16 476.03 L837.16 485.18 L836.12 485.60 M830.50 478.32 L833.00 482.90 M833.00 478.32 L830.50 482.90 M833.42 478.32 L835.91 482.90 M835.91 478.32 L833.42 482.90 " fill="none" stroke="#333" stroke-width="1.05" stroke-linecap="square"/>
<path d="M841.24 475.51 L841.24 476.86 M839.04 477.49 L843.66 477.49 M840.03 478.94 L840.69 481.65 M842.78 478.94 L842.12 481.65 M838.82 483.31 L843.88 482.69 M846.08 475.51 L846.08 480.40 M846.08 478.11 L849.38 478.11 M844.54 480.61 L849.16 480.61 L849.16 485.60 L844.54 485.60 L844.54 480.61 " fill="none" stroke="#333" stroke-width="1.05" stroke-linecap="square"/></svg>
</body></html>
